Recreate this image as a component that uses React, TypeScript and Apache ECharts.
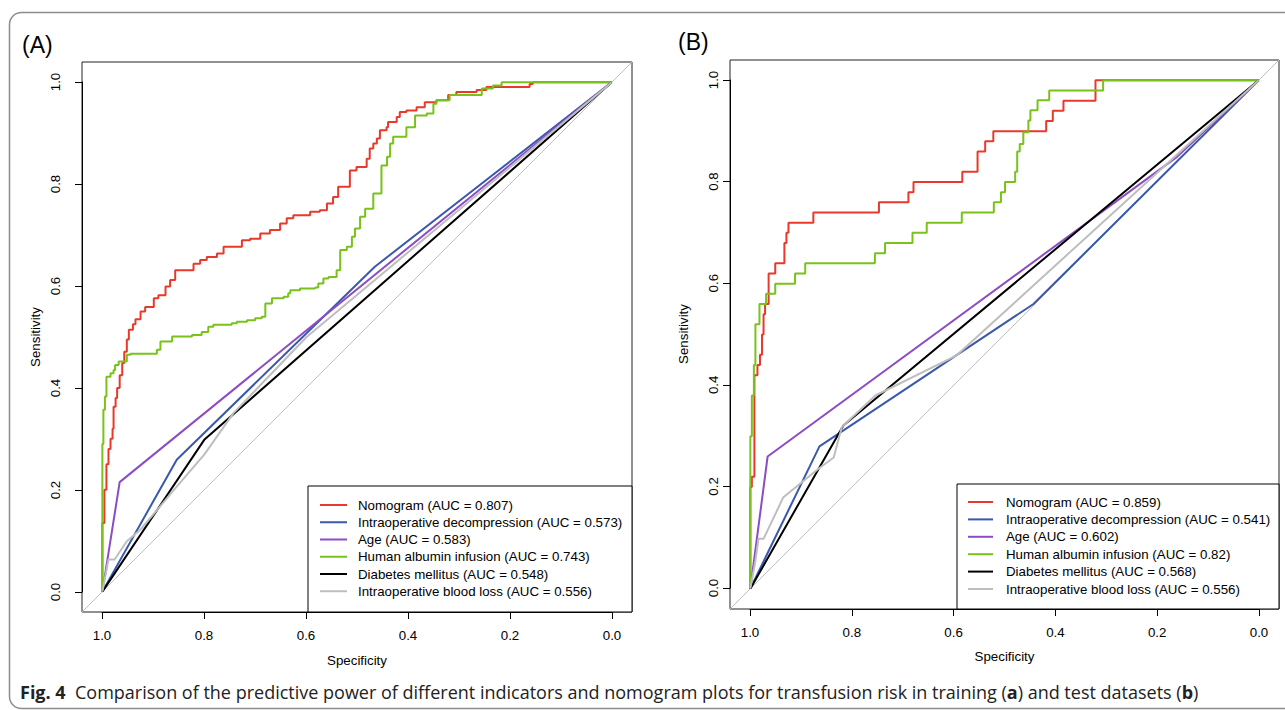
import React, { useEffect, useRef } from "react";
import * as echarts from "echarts";

const FONT = "Liberation Sans, Arial, Helvetica, sans-serif";
const TICK_MIN = 0;
const TICK_MAX = 1;
const TICK_STEP = 0.2;

const NAMES_A = [
  "Nomogram (AUC = 0.807)",
  "Intraoperative decompression (AUC = 0.573)",
  "Age (AUC = 0.583)",
  "Human albumin infusion (AUC = 0.743)",
  "Diabetes mellitus (AUC = 0.548)",
  "Intraoperative blood loss (AUC = 0.556)",
];
const NAMES_B = [
  "Nomogram (AUC = 0.859)",
  "Intraoperative decompression (AUC = 0.541)",
  "Age (AUC = 0.602)",
  "Human albumin infusion (AUC = 0.82)",
  "Diabetes mellitus (AUC = 0.568)",
  "Intraoperative blood loss (AUC = 0.556)",
];
const COLORS = ["#E8392A", "#3A58AC", "#8C4CC4", "#78C21A", "#000000", "#BEBEBE"];
const STEPPED = [true, false, false, true, false, false];

// Panel A (training): [specificity, sensitivity]
const A_NOMOGRAM = [
  [1, 0], [1, 0.135], [0.996, 0.2], [0.992, 0.25], [0.988, 0.28], [0.984, 0.3], [0.98, 0.32],
  [0.978, 0.363], [0.974, 0.38], [0.971, 0.4], [0.966, 0.425], [0.961, 0.449], [0.957, 0.471],
  [0.952, 0.495], [0.948, 0.514], [0.94, 0.525], [0.935, 0.535], [0.925, 0.55], [0.916, 0.559],
  [0.899, 0.576], [0.89, 0.582], [0.876, 0.599], [0.867, 0.612], [0.857, 0.631], [0.821, 0.644],
  [0.808, 0.651], [0.795, 0.657], [0.775, 0.664], [0.762, 0.677], [0.726, 0.69], [0.71, 0.693],
  [0.69, 0.703], [0.671, 0.71], [0.651, 0.723], [0.638, 0.733], [0.625, 0.739], [0.592, 0.746],
  [0.573, 0.749], [0.559, 0.762], [0.547, 0.775], [0.537, 0.795], [0.514, 0.827], [0.501, 0.834],
  [0.481, 0.85], [0.475, 0.87], [0.468, 0.88], [0.461, 0.89], [0.455, 0.906], [0.442, 0.912],
  [0.439, 0.922], [0.422, 0.932], [0.416, 0.942], [0.403, 0.945], [0.383, 0.951], [0.367, 0.961],
  [0.344, 0.965], [0.321, 0.975], [0.305, 0.981], [0.265, 0.985], [0.246, 0.991], [0.161, 0.997],
  [0.155, 1], [0, 1],
];
const A_DECOMPRESSION = [[1, 0], [0.854, 0.259], [0.465, 0.638], [0, 1]];
const A_AGE = [[1, 0], [0.966, 0.215], [0, 1]];
const A_ALBUMIN = [
  [1, 0], [1, 0.29], [0.998, 0.357], [0.995, 0.383], [0.992, 0.422], [0.984, 0.429], [0.978, 0.435],
  [0.975, 0.445], [0.968, 0.452], [0.952, 0.465], [0.945, 0.467], [0.893, 0.475], [0.886, 0.491],
  [0.863, 0.501], [0.824, 0.504], [0.805, 0.51], [0.792, 0.52], [0.782, 0.524], [0.746, 0.527],
  [0.736, 0.53], [0.716, 0.533], [0.7, 0.537], [0.687, 0.54], [0.68, 0.566], [0.667, 0.576],
  [0.644, 0.579], [0.635, 0.586], [0.631, 0.592], [0.612, 0.595], [0.582, 0.597], [0.576, 0.605],
  [0.566, 0.615], [0.556, 0.618], [0.54, 0.631], [0.533, 0.671], [0.52, 0.677], [0.51, 0.697],
  [0.504, 0.713], [0.494, 0.736], [0.484, 0.752], [0.468, 0.782], [0.452, 0.837], [0.441, 0.854],
  [0.435, 0.88], [0.429, 0.893], [0.403, 0.912], [0.386, 0.935], [0.363, 0.939], [0.35, 0.958],
  [0.344, 0.965], [0.318, 0.975], [0.255, 0.988], [0.233, 0.994], [0.216, 1], [0, 1],
];
const A_DIABETES = [[1, 0], [0.8, 0.298], [0, 1]];
const A_BLOODLOSS = [
  [1, 0], [0.988, 0.063], [0.976, 0.063], [0.952, 0.099], [0.925, 0.122], [0.854, 0.206],
  [0.8, 0.269], [0.743, 0.35], [0.599, 0.5], [0, 1],
];

// Panel B (test): [specificity, sensitivity]
const B_NOMOGRAM = [
  [1, 0], [1, 0.2], [0.997, 0.22], [0.992, 0.42], [0.986, 0.44], [0.981, 0.46], [0.977, 0.5],
  [0.974, 0.54], [0.971, 0.56], [0.964, 0.62], [0.951, 0.64], [0.933, 0.68], [0.929, 0.7],
  [0.925, 0.72], [0.876, 0.74], [0.747, 0.76], [0.689, 0.78], [0.679, 0.8], [0.583, 0.82],
  [0.553, 0.86], [0.538, 0.88], [0.522, 0.9], [0.418, 0.92], [0.405, 0.94], [0.384, 0.96],
  [0.321, 1], [0, 1],
];
const B_DECOMPRESSION = [[1, 0], [0.864, 0.28], [0.443, 0.56], [0, 1]];
const B_AGE = [[1, 0], [0.966, 0.26], [0.16, 0.85], [0, 1]];
const B_ALBUMIN = [
  [1, 0], [1, 0.3], [0.997, 0.38], [0.993, 0.44], [0.99, 0.52], [0.982, 0.56], [0.969, 0.58],
  [0.951, 0.6], [0.912, 0.62], [0.892, 0.64], [0.755, 0.66], [0.735, 0.68], [0.681, 0.7],
  [0.653, 0.72], [0.584, 0.74], [0.521, 0.76], [0.507, 0.78], [0.499, 0.8], [0.479, 0.82],
  [0.475, 0.86], [0.47, 0.875], [0.463, 0.898], [0.453, 0.921], [0.449, 0.941], [0.435, 0.961],
  [0.412, 0.98], [0.306, 1], [0, 1],
];
const B_DIABETES = [[1, 0], [0.817, 0.321], [0, 1]];
const B_BLOODLOSS = [
  [1, 0], [0.99, 0.055], [0.984, 0.098], [0.974, 0.098], [0.935, 0.18], [0.866, 0.236],
  [0.836, 0.258], [0.82, 0.318], [0.754, 0.38], [0.594, 0.459], [0, 1],
];

const DIAGONAL = [[1.04, -0.04], [-0.04, 1.04]];

const CURVES_A = [A_NOMOGRAM, A_DECOMPRESSION, A_AGE, A_ALBUMIN, A_DIABETES, A_BLOODLOSS];
const CURVES_B = [B_NOMOGRAM, B_DECOMPRESSION, B_AGE, B_ALBUMIN, B_DIABETES, B_BLOODLOSS];

const CAPTION_PARTS = [
  "Comparison of the predictive power of different indicators and nomogram plots for transfusion risk in training (",
  "a",
  ") and test datasets (",
  "b",
  ")",
];

const txt = { fontSize: 13.3, color: "#000", fontFamily: FONT };

// hidden data axis spanning the whole box (R's 4% extension)
function dataAxis(gridIndex: number, inverse: boolean) {
  return {
    gridIndex,
    type: "value",
    min: -0.04,
    max: 1.04,
    inverse,
    show: false,
    splitLine: { show: false },
  };
}

// visible R-style axis spanning 0..1, offset to sit on the box edge
function tickXAxis(gridIndex: number, offset: number, nameGap: number) {
  return {
    gridIndex,
    type: "value",
    min: TICK_MIN,
    max: TICK_MAX,
    interval: TICK_STEP,
    inverse: true,
    position: "bottom",
    offset,
    axisLine: { show: true, onZero: false, lineStyle: { color: "#000", width: 1 } },
    splitLine: { show: false },
    axisTick: { show: true, length: 7, lineStyle: { color: "#000", width: 1 } },
    axisLabel: { formatter: (v: number) => v.toFixed(1), margin: 17, ...txt },
    name: "Specificity",
    nameLocation: "middle",
    nameGap,
    nameTextStyle: txt,
  };
}

function tickYAxis(gridIndex: number, offset: number, margin: number, nameGap: number) {
  return {
    gridIndex,
    type: "value",
    min: TICK_MIN,
    max: TICK_MAX,
    interval: TICK_STEP,
    position: "left",
    offset,
    axisLine: { show: true, onZero: false, lineStyle: { color: "#000", width: 1 } },
    splitLine: { show: false },
    axisTick: { show: true, length: 7, lineStyle: { color: "#000", width: 1 } },
    axisLabel: { formatter: (v: number) => v.toFixed(1), rotate: 90, margin, ...txt },
    name: "Sensitivity",
    nameLocation: "middle",
    nameGap,
    nameTextStyle: txt,
  };
}

function panelSeries(curves: number[][][], names: string[], idx: number) {
  const out: any[] = [
    {
      type: "line",
      name: "diag" + idx,
      data: DIAGONAL,
      xAxisIndex: idx,
      yAxisIndex: idx,
      symbol: "none",
      silent: true,
      clip: true,
      lineStyle: { color: "#BDBDBD", width: 1 },
    },
  ];
  curves.forEach((c, i) => {
    out.push({
      type: "line",
      name: names[i],
      data: c,
      xAxisIndex: idx,
      yAxisIndex: idx,
      symbol: "none",
      silent: true,
      clip: true,
      step: STEPPED[i] ? "end" : false,
      lineStyle: { color: COLORS[i], width: 2 },
      itemStyle: { color: COLORS[i] },
    });
  });
  return out;
}

function legendGraphics(
  names: string[],
  box: { x: number; y: number; w: number; h: number },
  lineX0: number,
  lineX1: number,
  textX: number,
  rowY0: number,
  rowGap: number
) {
  const els: any[] = [
    {
      type: "rect",
      shape: { x: box.x, y: box.y, width: box.w, height: box.h },
      style: { fill: "#fff", stroke: "#000", lineWidth: 1 },
      z: 100,
    },
  ];
  names.forEach((n, i) => {
    const y = rowY0 + i * rowGap;
    els.push({
      type: "line",
      shape: { x1: lineX0, y1: y, x2: lineX1, y2: y },
      style: { stroke: COLORS[i], lineWidth: 2 },
      z: 101,
    });
    els.push({
      type: "text",
      x: textX,
      y,
      style: {
        text: n,
        fontSize: 13.3,
        fontFamily: FONT,
        fill: "#000",
        verticalAlign: "middle",
        align: "left",
      },
      z: 101,
    });
  });
  return els;
}

export default function App() {
  const ref = useRef<HTMLDivElement>(null);

  useEffect(() => {
    if (!ref.current) return;
    const chart = echarts.init(ref.current, undefined, { renderer: "svg" });
    const captionText =
      "{b|Fig. 4}  " +
      CAPTION_PARTS[0] +
      "{b|" + CAPTION_PARTS[1] + "}" +
      CAPTION_PARTS[2] +
      "{b|" + CAPTION_PARTS[3] + "}" +
      CAPTION_PARTS[4];
    const capFont = "Open Sans, Noto Sans, sans-serif";

    const option: any = {
      animation: false,
      backgroundColor: "#fff",
      grid: [
        // outer boxes (data)
        { left: 82, top: 62, width: 550, height: 550, show: true, borderColor: "#222", borderWidth: 1, backgroundColor: "transparent" },
        { left: 730, top: 60, width: 549, height: 549, show: true, borderColor: "#222", borderWidth: 1, backgroundColor: "transparent" },
        // inner 0..1 regions (axes)
        { left: 102, top: 82, width: 510, height: 510, show: false },
        { left: 750, top: 80, width: 509, height: 508, show: false },
      ],
      xAxis: [dataAxis(0, true), dataAxis(1, true), tickXAxis(2, 20, 42), tickXAxis(3, 21, 41)],
      yAxis: [dataAxis(0, false), dataAxis(1, false), tickYAxis(2, 20, 20, 40), tickYAxis(3, 20, 10, 40)],
      series: [...panelSeries(CURVES_A, NAMES_A, 0), ...panelSeries(CURVES_B, NAMES_B, 1)],
      graphic: [
        {
          type: "rect",
          shape: { x: 9.5, y: 12.5, width: 1300, height: 696, r: 12 },
          style: { fill: "none", stroke: "#8c8c8c", lineWidth: 1.5 },
          z: -10,
          silent: true,
        },
        {
          type: "text",
          x: 22,
          y: 45,
          style: { text: "(A)", fontSize: 23, fontFamily: FONT, fill: "#000", verticalAlign: "middle" },
        },
        {
          type: "text",
          x: 678,
          y: 42,
          style: { text: "(B)", fontSize: 23, fontFamily: FONT, fill: "#000", verticalAlign: "middle" },
        },
        {
          type: "text",
          x: 20,
          y: 692,
          style: {
            text: captionText,
            fontSize: 18,
            fontFamily: capFont,
            fill: "#222",
            verticalAlign: "middle",
            rich: {
              b: { fontWeight: "bold", fontSize: 18, fontFamily: capFont, fill: "#222" },
            },
          },
        },
        ...legendGraphics(NAMES_A, { x: 308, y: 486, w: 324, h: 126 }, 320, 347, 358, 505, 17.25),
        ...legendGraphics(NAMES_B, { x: 957, y: 484, w: 322, h: 125 }, 968, 993, 1006, 502, 17.4),
      ],
    };
    chart.setOption(option);
    return () => chart.dispose();
  }, []);

  return (
    <div
      ref={ref}
      style={{ position: "absolute", left: 0, top: 0, width: 1285, height: 710, background: "#fff" }}
    />
  );
}
